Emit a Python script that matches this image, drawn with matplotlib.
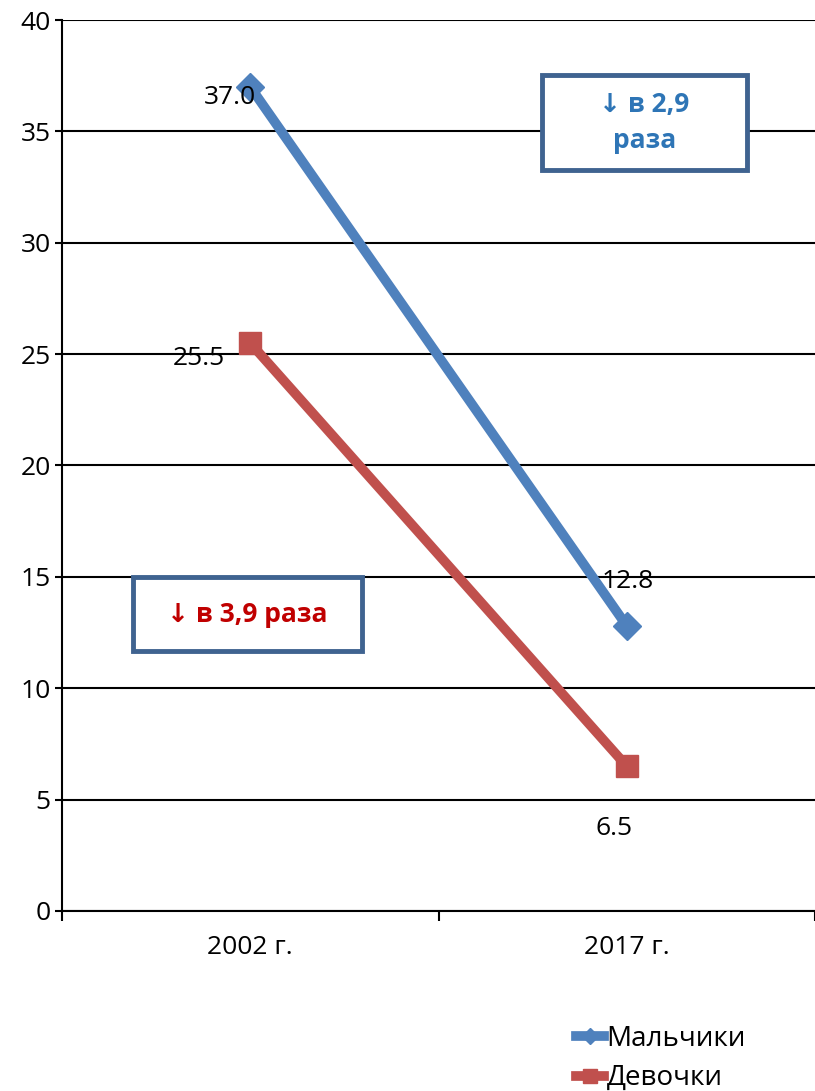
import matplotlib
matplotlib.use('Agg')
import matplotlib.pyplot as plt
from matplotlib.patches import Rectangle

plt.rcParams['font.family'] = ['Open Sans', 'DejaVu Sans']

years = ['2002 г.', '2017 г.']
boys = [37.0, 12.8]
girls = [25.5, 6.5]
boys_label = 'Мальчики'
girls_label = 'Девочки'
boys_note = '↓ в 2,9\nраза'
girls_note = '↓ в 3,9 раза'

blue = '#4F81BD'
red = '#C0504D'
fs = 19

fig = plt.figure(figsize=(8.15, 10.91), dpi=100, facecolor='w')
ax = fig.add_axes([62/815, 1 - 911/1091, 753/815, 891/1091])

x = list(range(len(years)))
l1, = ax.plot(x, boys, color=blue, lw=7, marker='D', ms=14, label=boys_label)
l2, = ax.plot(x, girls, color=red, lw=7, marker='s', ms=16, label=girls_label)

# data labels
ax.annotate('%.1f' % boys[0], (x[0], boys[0]), xytext=(-15, -8), textcoords='offset points',
            ha='center', va='center', fontsize=fs)
ax.annotate('%.1f' % girls[0], (x[0], girls[0]), xytext=(-37, -11), textcoords='offset points',
            ha='center', va='center', fontsize=fs)
ax.annotate('%.1f' % boys[1], (x[1], boys[1]), xytext=(1, 32), textcoords='offset points',
            ha='center', va='center', fontsize=fs)
ax.annotate('%.1f' % girls[1], (x[1], girls[1]), xytext=(-9, -45), textcoords='offset points',
            ha='center', va='center', fontsize=fs)

ax.set_xlim(-0.5, 1.5)
ax.set_ylim(0, 40)
ax.set_yticks(range(0, 41, 5))
ax.set_xticks(x)
ax.set_xticklabels(years)
ax.set_xticks([-0.5, 0.5, 1.5], minor=True)
ax.tick_params(axis='x', which='major', length=0, pad=17, labelsize=fs)
ax.tick_params(axis='x', which='minor', length=7, width=1.5, direction='out')
ax.tick_params(axis='y', length=5, width=1.5, labelsize=fs, pad=3)
ax.grid(axis='y', color='black', lw=1.5)
ax.set_axisbelow(True)
for s in ['top', 'right']:
    ax.spines[s].set_visible(False)
for s in ['left', 'bottom']:
    ax.spines[s].set_linewidth(1.5)

# annotation boxes
ax.add_patch(Rectangle((0.6375, 0.8316), 0.2722, 0.1067, transform=ax.transAxes,
                       facecolor='white', edgecolor='#3F6390', lw=3.5, zorder=5))
ax.text(0.7736, 0.885, boys_note, transform=ax.transAxes, ha='center', va='center',
        fontsize=19, fontweight='bold', color='#2E75B6', linespacing=1.45, zorder=6)
ax.add_patch(Rectangle((0.0943, 0.2918), 0.3041, 0.0831, transform=ax.transAxes,
                       facecolor='white', edgecolor='#3F6390', lw=3.5, zorder=5))
ax.text(0.2463, 0.3333, girls_note, transform=ax.transAxes, ha='center', va='center',
        fontsize=19, fontweight='bold', color='#C00000', zorder=6)

fig.legend(handles=[l1, l2], loc='upper left', bbox_to_anchor=(565/815, 1 - 1014/1091),
           frameon=False, fontsize=20, handlelength=1.0, handletextpad=0.1,
           labelspacing=0.4, markerscale=0.6, borderaxespad=0)

fig.savefig('out.png', dpi=100)
